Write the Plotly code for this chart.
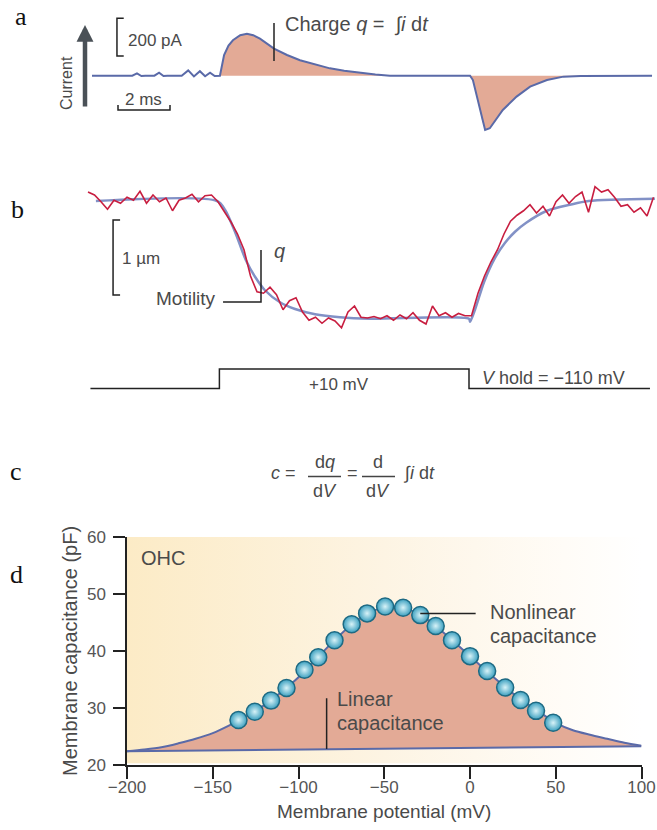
import plotly.graph_objects as go

W, H = 657, 830
SANS = "Liberation Sans, Arial, Helvetica, sans-serif"
SERIF = "Liberation Serif, Times New Roman, serif"
TXT = "#4a4a4a"
LINE_BLUE = "#5a6aa8"
FIT_BLUE = "#8291c6"
SALMON = "#e3aa96"
RED = "#c81e40"

# ---------------- Panel a: gating current (ms, pA) ----------------
a_time = [0, 1.55, 1.73, 1.9, 2.05, 2.4, 2.58, 2.75, 2.9, 3.45, 3.70, 3.92, 4.15, 4.35, 4.54, 4.72,
          4.92, 4.98, 5.08, 5.25, 5.42, 5.7, 5.96, 6.2, 6.46, 7.0, 7.5, 8.0, 8.6, 9.15, 9.7, 10.3, 10.9, 11.46,
          14.54, 14.65, 14.8, 15.0, 15.12, 15.3, 15.8, 16.33, 16.85, 17.5, 18.13, 18.8, 21.54]
a_current = [0, 0, 12, -2, 0, 0, 16, -2, 0, 0, 28, -4, 24, -3, 16, -2,
             0, 40, 109, 160, 188, 215, 223, 215, 197, 144, 110, 82, 58, 39, 26, 15, 6, 0,
             0, -23, -111, -235, -288, -279, -182, -111, -58, -23, -5, -1, 0]
a_scale_pA = 200
a_scale_ms = 2

# ---------------- Panel b: motility (ms, um) and voltage step (mV) ----------------
b_fit_time = [0.15, 4.81, 5.12, 5.5, 5.92, 6.27, 6.65, 7.23, 7.81, 8.58, 9.54, 10.7, 14.5,
              14.54, 14.73, 15.08, 15.5, 15.88, 16.27, 16.7, 17.5, 18.38, 19.1, 21.65]
b_fit_um = [0, 0, -0.12, -0.41, -0.79, -1.01, -1.19, -1.35, -1.44, -1.51, -1.55, -1.57, -1.57,
            -1.61, -1.45, -1.08, -0.76, -0.56, -0.41, -0.29, -0.13, -0.05, 0.0, 0.03]
b_raw_t0 = -0.154
b_raw_dt = 0.25
b_raw_um = [0.12, 0.08, -0.01, -0.11, 0.01, -0.03, 0.05, 0.01, 0.13, -0.03,
            0.08, -0.01, 0.04, -0.13, 0.01, 0.04, 0.09, -0.01, 0.07, 0.08,
            -0.01, -0.15, -0.28, -0.44, -0.65, -1.00, -1.21, -1.23, -1.15, -1.25,
            -1.45, -1.33, -1.29, -1.48, -1.59, -1.55, -1.63, -1.56, -1.60, -1.69,
            -1.48, -1.40, -1.55, -1.56, -1.54, -1.57, -1.53, -1.59, -1.52, -1.57,
            -1.49, -1.59, -1.64, -1.40, -1.53, -1.49, -1.55, -1.50, -1.53, -1.53,
            -1.23, -1.00, -0.81, -0.65, -0.44, -0.27, -0.19, -0.13, -0.05, -0.16,
            -0.07, -0.20, -0.01, 0.08, -0.03, 0.06, 0.12, -0.15, 0.19, 0.12,
            0.15, 0.05, -0.07, -0.05, -0.15, -0.09, -0.20, 0.05]
b_scale_um = 1
v_time = [-0.06, 4.9, 14.5, 21.46]
v_mV = [-110, 10, -110, -110]

# ---------------- Panel d: capacitance vs potential ----------------
d_x_range = [-200, 100]
d_y_range = [20, 60]
d_curve_mV = [-200, -190, -180, -170, -160, -150, -140, -130, -120, -110, -100, -90, -80, -70, -60,
              -50, -40, -30, -20, -10, 0, 10, 20, 30, 40, 50, 60, 70, 80, 90, 100]
d_curve_pF = [22.4, 22.7, 23.1, 23.8, 24.6, 25.6, 27.0, 28.6, 30.5, 32.8, 35.4, 38.5, 41.6, 44.4, 46.5,
              47.7, 47.7, 46.5, 44.4, 41.8, 39.1, 36.4, 33.8, 31.4, 29.4, 27.4, 26.1, 25.3, 24.6, 23.9, 23.4]
d_linear_mV = [-200, 100]
d_linear_pF = [22.4, 23.3]
d_points_mV = [-135, -125.5, -116, -107, -96.5, -88.5, -79, -69, -60, -49.5,
               -39, -29, -20, -10.5, 0, 10, 20.5, 29.5, 38.5, 48.5]
d_points_pF = [27.9, 29.35, 31.3, 33.5, 36.7, 38.9, 41.9, 44.7, 46.6, 47.8,
               47.6, 46.3, 44.4, 41.9, 39.1, 36.5, 33.6, 31.4, 29.5, 27.4]


def px(x):
    return x / W


def py(y):
    return 1 - y / H


fig = go.Figure()

# panel a fills and trace
pos = [(t, i) for t, i in zip(a_time, a_current) if 4.9 <= t <= 11.5]
neg = [(t, i) for t, i in zip(a_time, a_current) if 14.5 <= t]
for seg in (pos, neg):
    fig.add_trace(go.Scatter(x=[s[0] for s in seg], y=[s[1] for s in seg], mode="lines",
                             line=dict(width=0), fill="tozeroy", fillcolor=SALMON,
                             xaxis="x", yaxis="y", hoverinfo="skip", showlegend=False))
fig.add_trace(go.Scatter(x=a_time, y=a_current, mode="lines", line=dict(color=LINE_BLUE, width=2),
                         xaxis="x", yaxis="y", showlegend=False))

# panel b
fig.add_trace(go.Scatter(x=b_fit_time, y=b_fit_um, mode="lines", line=dict(color=FIT_BLUE, width=2.5, shape="spline", smoothing=0.8),
                         xaxis="x", yaxis="y2", showlegend=False))
fig.add_trace(go.Scatter(x0=b_raw_t0, dx=b_raw_dt, y=b_raw_um, mode="lines", line=dict(color=RED, width=1.6),
                         xaxis="x", yaxis="y2", showlegend=False))
fig.add_trace(go.Scatter(x=v_time, y=v_mV, mode="lines", line=dict(color="#222222", width=1.5, shape="hv"),
                         xaxis="x", yaxis="y3", showlegend=False))

# panel d
bx = [d_x_range[0], d_x_range[1], d_x_range[1], d_x_range[0], d_x_range[0]]
by = [d_y_range[0] + 0.3, d_y_range[0] + 0.3, d_y_range[1], d_y_range[1], d_y_range[0] + 0.3]
fig.add_trace(go.Scatter(x=bx, y=by, mode="lines", line=dict(width=0), fill="toself",
                         fillcolor="#fdf3df",
                         fillgradient=dict(type="horizontal",
                                           colorscale=[[0, "#fcebc6"], [0.5, "#fdf4e3"], [0.85, "#fffcf7"], [1, "#ffffff"]]),
                         xaxis="x2", yaxis="y4", hoverinfo="skip", showlegend=False))
fig.add_trace(go.Scatter(x=d_linear_mV, y=d_linear_pF, mode="lines", line=dict(color=LINE_BLUE, width=2),
                         xaxis="x2", yaxis="y4", showlegend=False))
fig.add_trace(go.Scatter(x=d_curve_mV, y=d_curve_pF, mode="lines", fill="tonexty", fillcolor=SALMON,
                         line=dict(color=LINE_BLUE, width=2, shape="spline", smoothing=0.8),
                         xaxis="x2", yaxis="y4", showlegend=False))
fig.add_trace(go.Scatter(x=d_points_mV, y=d_points_pF, mode="markers",
                         marker=dict(size=17, color="#3a9fbf",
                                     gradient=dict(type="radial", color="#d8f3f8"),
                                     line=dict(color="#1e6a83", width=1.5)),
                         xaxis="x2", yaxis="y4", showlegend=False))

shapes = []
K = dict(color="#222222", width=1.5)
# panel a scale bars (data coords)
shapes.append(dict(type="path", xref="x", yref="y", line=K,
                   path=f"M 1.22 {105 + a_scale_pA} L 0.96 {105 + a_scale_pA} L 0.96 105 L 1.22 105"))
shapes.append(dict(type="path", xref="x", yref="y", line=K,
                   path=f"M 1.0 -155 L 1.0 -182 L {1.0 + a_scale_ms} -182 L {1.0 + a_scale_ms} -155"))
# charge tick
shapes.append(dict(type="line", xref="paper", yref="paper", x0=px(274), x1=px(274), y0=py(23), y1=py(61), line=K))
# panel b scale bar
shapes.append(dict(type="path", xref="x", yref="y2", line=K,
                   path=f"M 1.08 -0.253 L 0.81 -0.253 L 0.81 {-0.253 - b_scale_um} L 1.08 {-0.253 - b_scale_um}"))
# motility pointer
shapes.append(dict(type="path", xref="x", yref="y2", line=K,
                   path="M 5.04 -1.347 L 6.5 -1.347 L 6.5 -0.653"))
# equation fraction bars
shapes.append(dict(type="line", xref="paper", yref="paper", x0=px(308), x1=px(341), y0=py(476.5), y1=py(476.5),
                   line=dict(color="#444444", width=1.3)))
shapes.append(dict(type="line", xref="paper", yref="paper", x0=px(362), x1=px(395), y0=py(476.5), y1=py(476.5),
                   line=dict(color="#444444", width=1.3)))
# panel d pointers
shapes.append(dict(type="line", xref="x2", yref="y4", x0=-29, x1=3.3, y0=46.6, y1=46.6, line=K, layer="above"))
shapes.append(dict(type="line", xref="x2", yref="y4", x0=-83.6, x1=-83.6, y0=22.8, y1=31.7, line=K, layer="above"))

anns = []


def txt(x, y, s, size, xanchor="left", color=TXT, family=SANS, angle=0):
    anns.append(dict(x=px(x), y=py(y), xref="paper", yref="paper", text=s, showarrow=False,
                     xanchor=xanchor, yanchor="middle", textangle=angle,
                     font=dict(size=size, color=color, family=family)))


# panel letters
txt(21, 16, "a", 26, "center", "#111111", SERIF)
txt(17, 209, "b", 26, "center", "#111111", SERIF)
txt(16, 471, "c", 26, "center", "#111111", SERIF)
txt(16, 574, "d", 26, "center", "#111111", SERIF)

# panel a texts
anns.append(dict(x=px(85), y=py(25), ax=0, ay=83, xref="paper", yref="paper", text="", showarrow=True,
                 arrowhead=2, arrowsize=0.75, arrowwidth=4.5, arrowcolor="#4a5157"))
txt(67, 83, "Current", 16, "center", angle=-90)
txt(126, 41, "200 pA", 17)
txt(143, 99, "2 ms", 17, "center")
txt(283, 24, "Charge <i>q</i> =  ∫<i>i</i> d<i>t</i>", 20)

# panel b texts
txt(120, 258, "1 µm", 17)
txt(272, 251, "<i>q</i>", 20)
txt(218, 298, "Motility", 19, "right")
txt(339, 384, "+10 mV", 17, "center")
txt(480, 378, "<i>V</i> hold = −110 mV", 18)

# panel c equation
txt(283, 473, "<i>c</i> =", 18, "center")
txt(325, 462, "d<i>q</i>", 18, "center")
txt(325, 491, "d<i>V</i>", 18, "center")
txt(352, 473, "=", 18, "center")
txt(378, 462, "d", 18, "center")
txt(378, 491, "d<i>V</i>", 18, "center")
txt(401, 473, "∫<i>i</i> d<i>t</i>", 18)

# panel d texts
txt(139, 558, "OHC", 20)
txt(488, 612, "Nonlinear", 20)
txt(488, 636, "capacitance", 20)
txt(335, 699, "Linear", 20)
txt(335, 723, "capacitance", 20)
txt(384, 811, "Membrane potential (mV)", 19, "center")
txt(70, 651, "Membrane capacitance (pF)", 20, "center", angle=-90)

hidden = dict(visible=False, showgrid=False, zeroline=False, fixedrange=True, automargin=False)
a_top, a_bot = 75.7 / 0.1885, (75.7 - 170) / 0.1885
fig.update_layout(
    width=W, height=H, autosize=False,
    margin=dict(l=0, r=0, t=0, b=0, pad=0, autoexpand=False),
    paper_bgcolor="white", plot_bgcolor="rgba(0,0,0,0)",
    showlegend=False,
    xaxis=dict(domain=[0, 1], range=[-92 / 26, (W - 92) / 26], anchor="y", **hidden),
    yaxis=dict(domain=[py(170), 1], range=[a_bot, a_top], anchor="x", **hidden),
    yaxis2=dict(domain=[py(340), py(170)], range=[(201 - 340) / 75, (201 - 170) / 75], anchor="x", **hidden),
    yaxis3=dict(domain=[py(420), py(340)], range=[-110 - (420 - 388.5) / 0.1625, -110 + (388.5 - 340) / 0.1625],
                anchor="x", **hidden),
    xaxis2=dict(domain=[px(127), px(641.5)], range=d_x_range, anchor="y4", dtick=50, tick0=0, automargin=False,
                showline=True, linecolor="#222222", linewidth=1.5, ticks="outside", ticklen=12, tickwidth=1.5,
                tickcolor="#222222", showgrid=False, zeroline=False, ticklabelstandoff=-6,
                tickfont=dict(size=17, color="#555555", family=SANS)),
    yaxis4=dict(domain=[py(765), py(537)], range=d_y_range, anchor="x2", dtick=10, tick0=0, automargin=False,
                showline=True, linecolor="#222222", linewidth=1.5, ticks="outside", ticklen=12, tickwidth=1.5,
                tickcolor="#222222", showgrid=False, zeroline=False, ticklabelstandoff=4,
                tickfont=dict(size=17, color="#555555", family=SANS)),
    shapes=shapes, annotations=anns,
)

fig.write_html("out.html")
